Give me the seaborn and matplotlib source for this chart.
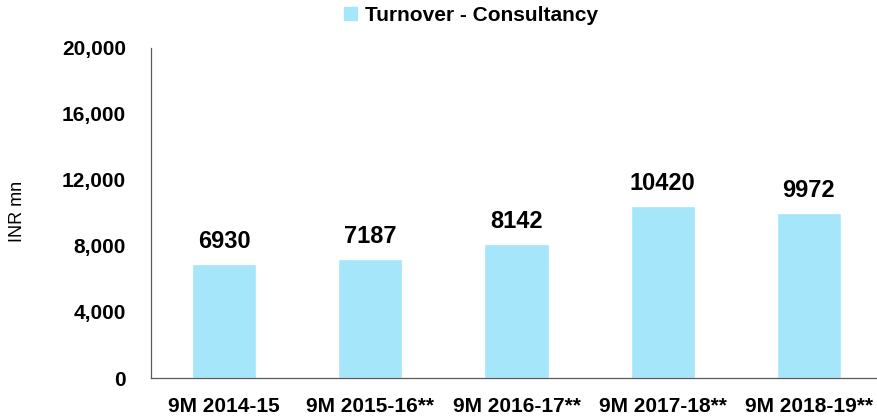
import matplotlib
matplotlib.use("Agg")
import matplotlib.pyplot as plt
import seaborn as sns
from matplotlib.patches import Patch
from matplotlib.ticker import FuncFormatter

sns.set_style("white")
plt.rcParams["font.family"] = ["Liberation Sans", "DejaVu Sans"]
plt.rcParams["text.color"] = "black"
plt.rcParams["xtick.color"] = "black"
plt.rcParams["ytick.color"] = "black"

periods = ["9M 2014-15", "9M 2015-16**", "9M 2016-17**", "9M 2017-18**", "9M 2018-19**"]
turnover = [6930, 7187, 8142, 10420, 9972]
y_ticks = [0, 4000, 8000, 12000, 16000, 20000]
series_name = "Turnover - Consultancy"
bar_color = "#A5E6FA"

fig = plt.figure(figsize=(8.77, 4.17), dpi=100)
ax = fig.add_axes([151 / 877, 39 / 417, 731 / 877, 330 / 417])

sns.barplot(x=periods, y=turnover, color=bar_color, saturation=1, width=0.44, ax=ax)

ax.bar_label(ax.containers[0], labels=[str(v) for v in turnover], padding=8,
             fontsize=17, fontweight="bold", color="black")

ax.set_ylim(0, 20000)
ax.set_xlim(-0.5, 4.5)
ax.set_yticks(y_ticks)
ax.yaxis.set_major_formatter(FuncFormatter(lambda v, p: f"{int(v):,}"))
ax.tick_params(axis="y", length=0, pad=18, labelsize=15, labelcolor="black")
ax.tick_params(axis="x", length=0, pad=14, labelsize=15, labelcolor="black")
for lbl in ax.get_xticklabels() + ax.get_yticklabels():
    lbl.set_fontweight("bold")

ax.set_xlabel("")
ax.set_ylabel("")
for side in ["top", "right"]:
    ax.spines[side].set_visible(False)
for side in ["left", "bottom"]:
    ax.spines[side].set_color("#595959")
    ax.spines[side].set_linewidth(0.9)

fig.text(18 / 877, 0.494, "INR mn", rotation=90, ha="center", va="center",
         fontsize=13, color="black")

fig.legend(handles=[Patch(color=bar_color, label=series_name)], loc="center",
           bbox_to_anchor=(0.537, 0.964), frameon=False, handlelength=0.6,
           handleheight=0.6, handletextpad=0.4,
           prop={"size": 15, "weight": "bold"}, labelcolor="black")

fig.savefig("out.png", dpi=100)
